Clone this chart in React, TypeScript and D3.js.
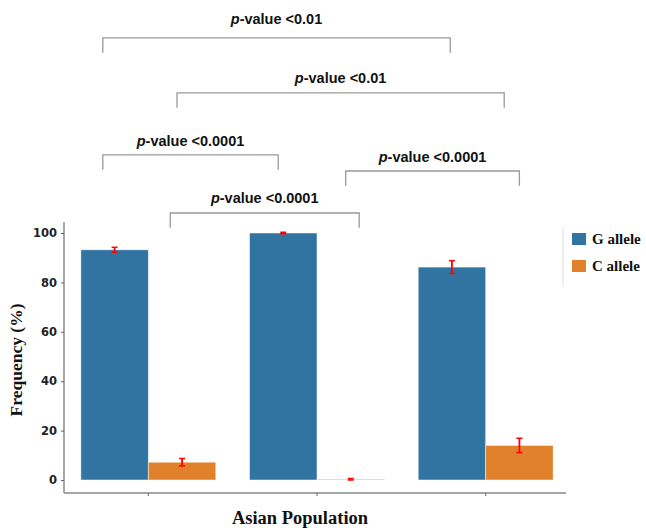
import React, { useEffect, useRef } from "react";
import * as d3 from "d3";

// data
const populations = ["P1", "P2", "P3"];
const alleles = ["G allele", "C allele"];
const gValues = [93.2, 100, 86.2];
const gErrors = [1.0, 0.3, 2.6];
const cValues = [7.2, 0.3, 14.0];
const cErrors = [1.5, 0.3, 2.9];
const yTicks = [0, 20, 40, 60, 80, 100];
const colors = ["#3274a1", "#e1812c"];

// significance brackets: ends in category-index units, level in % units
const bracketFrom = [-0.27, 0.17, -0.27, 1.17, 0.13];
const bracketTo = [1.79, 2.11, 0.77, 2.2, 1.25];
const bracketLevel = [179, 156.7, 131.6, 125.1, 108.1];
const bracketText = ["<0.01", "<0.01", "<0.0001", "<0.0001", "<0.0001"];
const labelGap = [14, 10, 9, 9, 10];

const App = () => {
  const svgRef = useRef<SVGSVGElement>(null);

  useEffect(() => {
    const svg = d3.select(svgRef.current);
    svg.selectAll("*").remove();

    const x0 = d3.scaleBand().domain(populations).range([64, 570]).paddingInner(0.2).paddingOuter(0.1);
    const x1 = d3.scaleBand().domain(alleles).range([0, x0.bandwidth()]);
    const yScale = d3.scaleLinear().domain([0, 100]).range([480, 233]);
    // index scale for brackets
    const xi = d3.scaleLinear().domain([0, 1]).range([
      x0(populations[0])! + x0.bandwidth() / 2,
      x0(populations[1])! + x0.bandwidth() / 2,
    ]);

    const series = [
      { vals: gValues, errs: gErrors },
      { vals: cValues, errs: cErrors },
    ];

    // bars
    series.forEach((s, si) => {
      svg.append("g")
        .selectAll("rect")
        .data(populations)
        .enter()
        .append("rect")
        .attr("x", (d) => x0(d)! + x1(alleles[si])!)
        .attr("y", (d, i) => yScale(s.vals[i]))
        .attr("width", x1.bandwidth())
        .attr("height", (d, i) => yScale(0) - yScale(s.vals[i]))
        .attr("fill", colors[si])
        .attr("stroke", "#ffffff")
        .attr("stroke-opacity", 0.6)
        .attr("stroke-width", 0.8);
    });

    // error bars
    series.forEach((s, si) => {
      const g = svg.append("g");
      populations.forEach((p, i) => {
        const cx = x0(p)! + x1(alleles[si])! + x1.bandwidth() / 2;
        const lo = yScale(s.vals[i] - s.errs[i]);
        const hi = yScale(s.vals[i] + s.errs[i]);
        g.append("line").attr("x1", cx).attr("x2", cx).attr("y1", lo).attr("y2", hi)
          .attr("stroke", "red").attr("stroke-width", 1.8);
        [lo, hi].forEach((yy) => {
          g.append("line").attr("x1", cx - 3).attr("x2", cx + 3).attr("y1", yy).attr("y2", yy)
            .attr("stroke", "red").attr("stroke-width", 1.5);
        });
      });
    });

    // y axis
    const yAxis = svg.append("g")
      .attr("transform", "translate(64,0)")
      .call(d3.axisLeft(yScale).tickValues(yTicks).tickSize(3).tickPadding(4));
    yAxis.select(".domain").attr("d", "M0,222V493").attr("stroke", "#888").attr("stroke-width", 1.5);
    yAxis.selectAll(".tick line").attr("stroke", "#666");
    yAxis.selectAll("text")
      .attr("font-family", "DejaVu Sans, sans-serif")
      .attr("font-weight", "bold")
      .attr("font-size", 11.5)
      .attr("fill", "#222");

    // x axis
    const xAxis = svg.append("g")
      .attr("transform", "translate(0,493)")
      .call(d3.axisBottom(x0).tickSize(3).tickFormat(() => ""));
    xAxis.select(".domain").attr("d", "M64,0H566").attr("stroke", "#888").attr("stroke-width", 1.5);
    xAxis.selectAll(".tick line").attr("stroke", "#666");

    // axis titles
    svg.append("text")
      .attr("transform", "translate(22,360) rotate(-90)")
      .attr("text-anchor", "middle")
      .attr("font-family", "Liberation Serif, serif")
      .attr("font-weight", "bold")
      .attr("font-size", 17.5)
      .attr("fill", "#111")
      .text("Frequency (%)");
    svg.append("text")
      .attr("x", 300)
      .attr("y", 524)
      .attr("text-anchor", "middle")
      .attr("font-family", "Liberation Serif, serif")
      .attr("font-weight", "bold")
      .attr("font-size", 18.5)
      .attr("fill", "#111")
      .text("Asian Population");

    // legend
    svg.append("line").attr("x1", 563).attr("x2", 563).attr("y1", 228).attr("y2", 287)
      .attr("stroke", "#ddd").attr("stroke-width", 1);
    alleles.forEach((a, i) => {
      svg.append("rect").attr("x", 572).attr("y", 233 + i * 27).attr("width", 14).attr("height", 12)
        .attr("fill", colors[i]);
      svg.append("text").attr("x", 592).attr("y", 244 + i * 27)
        .attr("font-family", "Liberation Serif, serif")
        .attr("font-weight", "bold")
        .attr("font-size", 15)
        .attr("fill", "#111")
        .text(a);
    });

    // significance brackets
    const drop = 6;
    bracketText.forEach((t, i) => {
      const xa = xi(bracketFrom[i]), xb = xi(bracketTo[i]);
      const yy = yScale(bracketLevel[i]);
      const yd = yScale(bracketLevel[i] - drop);
      svg.append("path")
        .attr("d", `M${xa},${yd}V${yy}H${xb}V${yd}`)
        .attr("fill", "none")
        .attr("stroke", "#999")
        .attr("stroke-width", 1.3);
      const txt = svg.append("text")
        .attr("x", (xa + xb) / 2)
        .attr("y", yy - labelGap[i])
        .attr("text-anchor", "middle")
        .attr("font-family", "Liberation Sans, Arial, sans-serif")
        .attr("font-weight", "bold")
        .attr("font-size", 14.5)
        .attr("fill", "#111");
      txt.append("tspan").attr("font-style", "italic").text("p");
      txt.append("tspan").text("-value " + t);
    });
  }, []);

  return (
    <svg
      ref={svgRef}
      width={646}
      height={528}
      style={{ position: "absolute", left: 0, top: 0, background: "#fff" }}
    />
  );
};

export default App;
